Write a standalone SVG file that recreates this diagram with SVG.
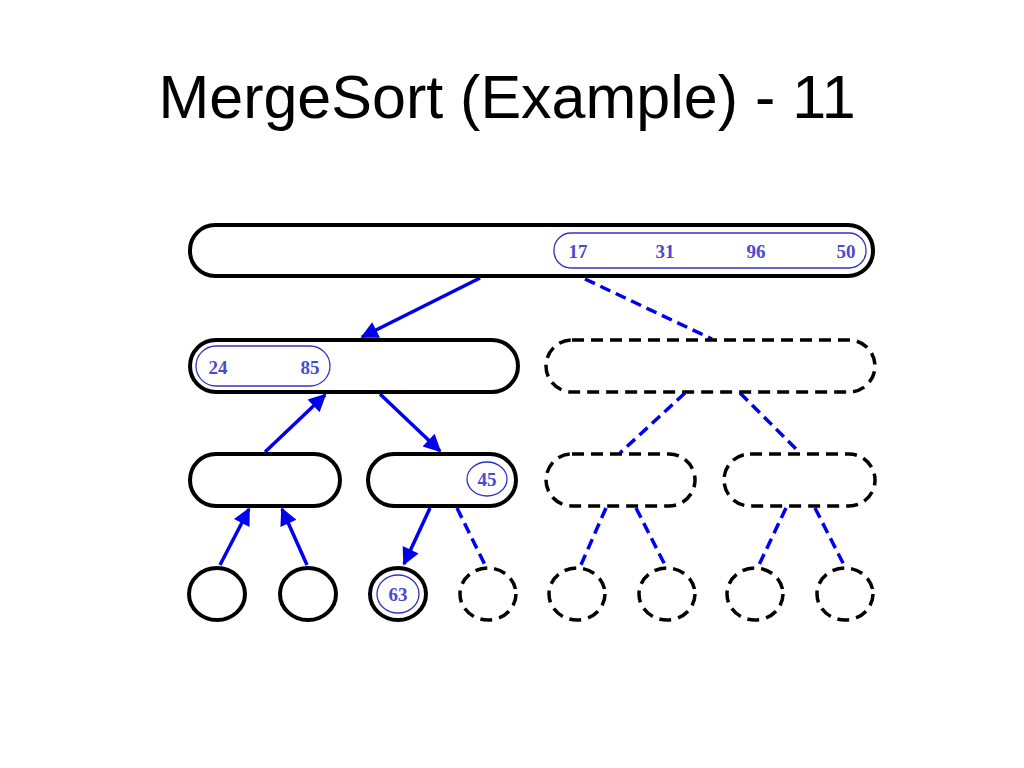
<svg xmlns="http://www.w3.org/2000/svg" width="1024" height="768" viewBox="0 0 1024 768">
<defs>
<style>
.n{fill:#fff;stroke:#000;stroke-width:4}
.d{fill:#fff;stroke:#000;stroke-width:3.5;stroke-dasharray:12 7}
.in{fill:none;stroke:#3333bb;stroke-width:1.3}
.t{font-family:"Liberation Serif",serif;font-weight:bold;font-size:19px;fill:#4a4acc;text-anchor:middle}
.a{stroke:#0000ee;stroke-width:3.5;fill:none}
.ad{stroke:#0000ee;stroke-width:3.5;fill:none;stroke-dasharray:11 6}
</style>
<marker id="ah" viewBox="0 0 10 10" refX="9" refY="5" markerWidth="5.5" markerHeight="5" markerUnits="strokeWidth" orient="auto">
<path d="M0,0 L10,5 L0,10 z" fill="#0000ee"/>
</marker>
</defs>
<rect width="1024" height="768" fill="#fff"/>
<text x="507" y="118" font-family="Liberation Sans,Arial,sans-serif" font-size="61" text-anchor="middle" fill="#000">MergeSort (Example) - 11</text>
<g id="connectors">
<line class="a" x1="480" y1="278" x2="362" y2="337" marker-end="url(#ah)"/>
<line class="ad" x1="585" y1="279" x2="712" y2="339"/>
<line class="a" x1="265" y1="452" x2="325" y2="395" marker-end="url(#ah)"/>
<line class="a" x1="380" y1="394" x2="440" y2="451" marker-end="url(#ah)"/>
<line class="ad" x1="685" y1="393" x2="620" y2="453"/>
<line class="ad" x1="740" y1="393" x2="800" y2="453"/>
<line class="a" x1="220" y1="565" x2="249" y2="509" marker-end="url(#ah)"/>
<line class="a" x1="307" y1="565" x2="282" y2="509" marker-end="url(#ah)"/>
<line class="a" x1="430" y1="508" x2="404" y2="564" marker-end="url(#ah)"/>
<line class="ad" x1="457" y1="508" x2="486" y2="567"/>
<line class="ad" x1="606" y1="508" x2="580" y2="567"/>
<line class="ad" x1="636" y1="508" x2="666" y2="567"/>
<line class="ad" x1="786" y1="508" x2="758" y2="567"/>
<line class="ad" x1="815" y1="508" x2="845" y2="567"/>
</g>
<g id="n0">
<rect class="n" x="190" y="225" width="683" height="51" rx="25"/>
<rect class="in" x="554" y="233" width="312" height="35" rx="17"/>
<text class="t" x="578" y="258">17</text>
<text class="t" x="665" y="258">31</text>
<text class="t" x="756" y="258">96</text>
<text class="t" x="846" y="258">50</text>
</g>
<g id="n1">
<rect class="n" x="190" y="340" width="328" height="52" rx="26"/>
<rect class="in" x="196" y="346" width="134" height="40" rx="20"/>
<text class="t" x="218" y="374">24</text>
<text class="t" x="310" y="374">85</text>
</g>
<g id="n2"><rect class="d" x="546" y="340" width="329" height="52" rx="26"/></g>
<g id="n3"><rect class="n" x="190" y="454" width="150" height="52" rx="26"/></g>
<g id="n4">
<rect class="n" x="368" y="454" width="148" height="52" rx="26"/>
<ellipse class="in" cx="487" cy="479" rx="20" ry="17"/>
<text class="t" x="487" y="486">45</text>
</g>
<g id="n5"><rect class="d" x="546" y="454" width="149" height="52" rx="26"/></g>
<g id="n6"><rect class="d" x="724" y="454" width="151" height="52" rx="26"/></g>
<g id="n7"><ellipse class="n" cx="217" cy="594" rx="28" ry="26"/></g>
<g id="n8"><ellipse class="n" cx="308" cy="594" rx="28" ry="26"/></g>
<g id="n9">
<ellipse class="n" cx="398" cy="594" rx="28" ry="26" stroke-width="6"/>
<ellipse class="in" cx="398" cy="594" rx="21" ry="19"/>
<text class="t" x="398" y="601">63</text>
</g>
<g id="n10"><ellipse class="d" cx="488" cy="594" rx="28" ry="26"/></g>
<g id="n11"><ellipse class="d" cx="577" cy="594" rx="28" ry="26"/></g>
<g id="n12"><ellipse class="d" cx="667" cy="594" rx="28" ry="26"/></g>
<g id="n13"><ellipse class="d" cx="755" cy="594" rx="28" ry="26"/></g>
<g id="n14"><ellipse class="d" cx="845" cy="594" rx="28" ry="26"/></g>
</svg>
